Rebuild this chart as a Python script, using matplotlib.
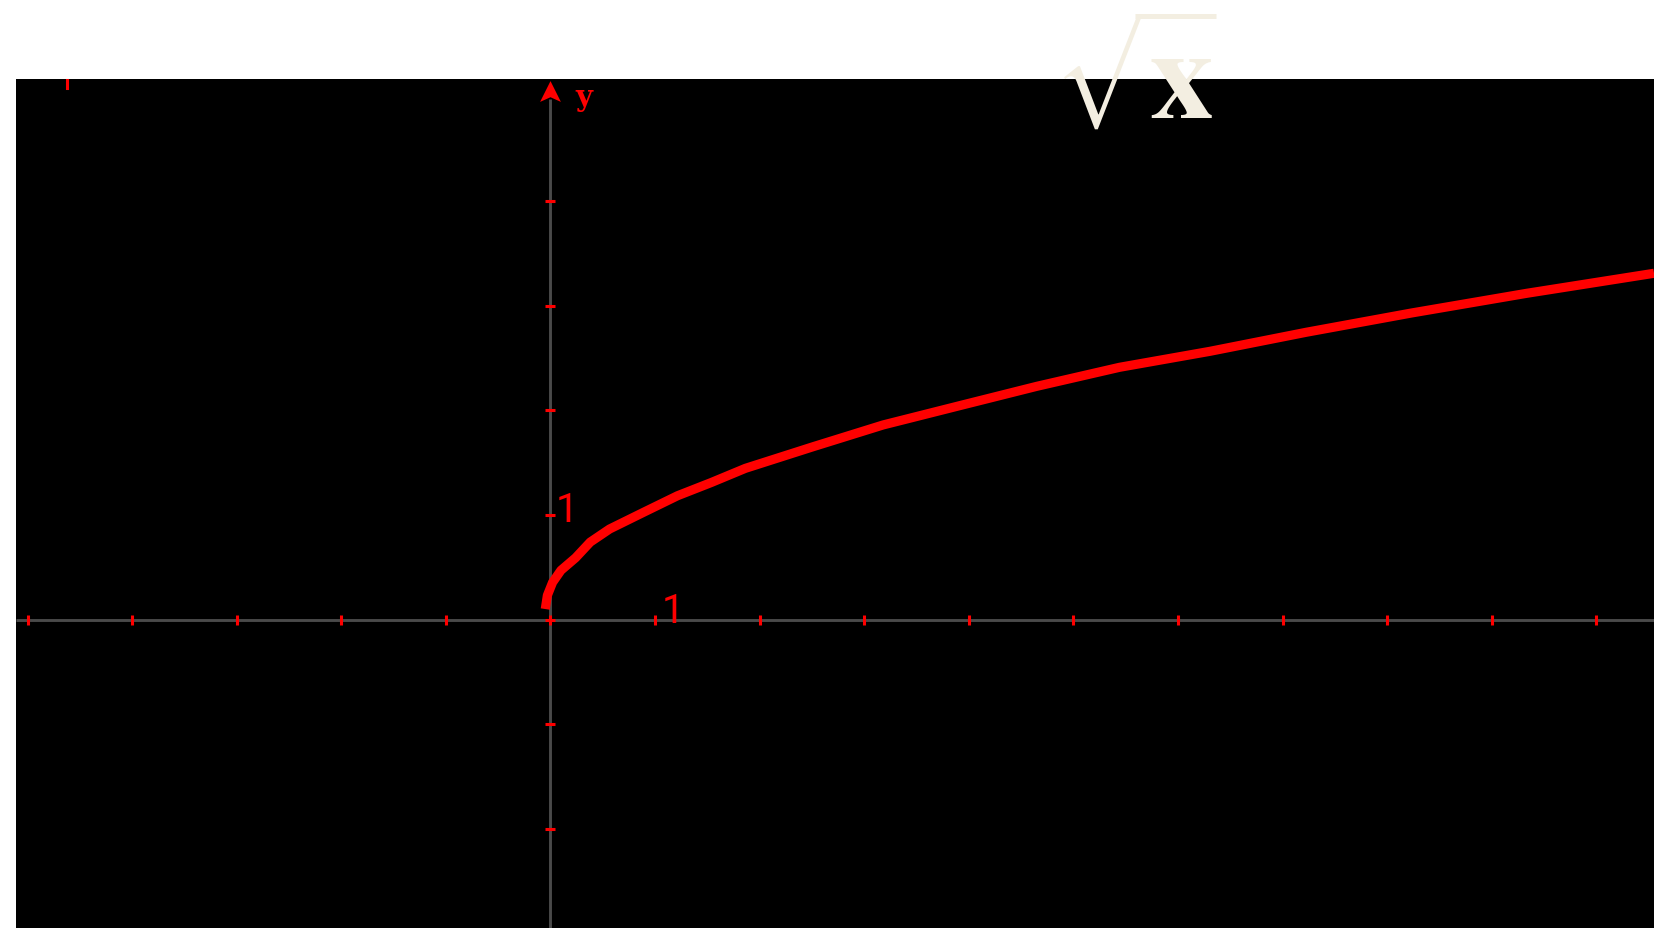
import matplotlib
matplotlib.use("Agg")
import matplotlib.pyplot as plt
from matplotlib.path import Path
from matplotlib.lines import Line2D

# ---- data ----
curve_x = [-0.05, -0.03, 0.02, 0.10, 0.24, 0.38, 0.565, 0.89, 1.214, 1.538, 1.863,
           2.511, 3.18, 3.91, 4.648, 5.44, 6.305, 7.225, 8.23, 9.33, 10.55]
curve_y = [0.10, 0.23, 0.355, 0.47, 0.59, 0.74, 0.865, 1.025, 1.183, 1.31, 1.445,
           1.652, 1.86, 2.044, 2.229, 2.411, 2.564, 2.746, 2.93, 3.118, 3.31]
x_ticks = list(range(-5, 11))
y_ticks = list(range(-2, 5))
x_label_text = "1"
y_label_text = "1"
axis_name = "y"
radical_text = "\u221a"
radicand_text = "x"

W, H, DPI = 1654, 929, 100
RED = "#FF0000"
GRAY = "#4A4A4A"
CREAM = "#F3EEE1"
SANS = ["Roboto", "DejaVu Sans"]

fig = plt.figure(figsize=(W / DPI, H / DPI), dpi=DPI, facecolor="white")
left_px, top_px = 15.5, 80
ax = fig.add_axes([left_px / W, 0, 1 - left_px / W, (H - top_px) / H])
ax.set_facecolor("black")
for s in ax.spines.values():
    s.set_visible(False)
ax.set_xticks([])
ax.set_yticks([])

unit = 104.6
x0_px, y0_px = 550.5, 620.5
ax.set_xlim((left_px - x0_px) / unit, (W - x0_px) / unit)
ax.set_ylim(-(H - y0_px) / unit, (y0_px - top_px) / unit)
xmin, xmax = ax.get_xlim()
ymin, ymax = ax.get_ylim()

# axes lines
arrow_base = (y0_px - 100) / unit
arrow_center = (y0_px - 92) / unit
ax.plot([xmin, xmax], [0, 0], color=GRAY, lw=2.1, zorder=1, solid_capstyle="butt")
ax.plot([0, 0], [ymin, arrow_base], color=GRAY, lw=2.1, zorder=1, solid_capstyle="butt")

# arrow head (notched triangle)
arrow_marker = Path([(0, 1), (-1, -1), (0, -0.55), (1, -1), (0, 1)],
                    [Path.MOVETO, Path.LINETO, Path.LINETO, Path.LINETO, Path.CLOSEPOLY])
ax.plot([0], [arrow_center], marker=arrow_marker, markersize=15, color=RED,
        markeredgewidth=0, linestyle="none", zorder=4)

# tick marks
ax.plot(x_ticks, [0] * len(x_ticks), linestyle="none", marker="|", markersize=6.5,
        markeredgewidth=2.2, color=RED, zorder=2)
ax.plot([0] * len(y_ticks), y_ticks, linestyle="none", marker="_", markersize=6.5,
        markeredgewidth=2.2, color=RED, zorder=2)

# curve
ax.plot(curve_x, curve_y, color=RED, lw=6.6, zorder=3,
        solid_capstyle="butt", solid_joinstyle="round")

# labels
ax.text(1.066, -0.02, x_label_text, color=RED, fontsize=29,
        family=SANS, ha="left", va="baseline", zorder=5)
ax.text(0.05, 0.94, y_label_text, color=RED, fontsize=29,
        family=SANS, ha="left", va="baseline", zorder=5)
ax.text(0.24, 4.92, axis_name, color=RED, fontsize=21, fontweight="bold",
        family=["DejaVu Serif"], ha="left", va="baseline")

# small stray red mark at top-left
ax.plot([-4.625, -4.625], [5.08, 5.16], color=RED, lw=2.2, clip_on=False)

# sqrt(x) title: radical sign, overline bar, bold x
fig.text(1096 / W, 1 - 74 / H, radical_text, color=CREAM, fontsize=65,
         family="STIXGeneral", ha="center", va="center")
fig.add_artist(Line2D([1135 / W, 1216 / W], [1 - 16.5 / H, 1 - 16.5 / H],
                      color=CREAM, lw=3.6, solid_capstyle="butt"))
fig.text(1181 / W, 1 - 118 / H, radicand_text, color=CREAM, fontsize=92,
         family="STIXGeneral", fontweight="bold", ha="center", va="baseline")

fig.savefig("out.png", dpi=DPI, facecolor="white")
